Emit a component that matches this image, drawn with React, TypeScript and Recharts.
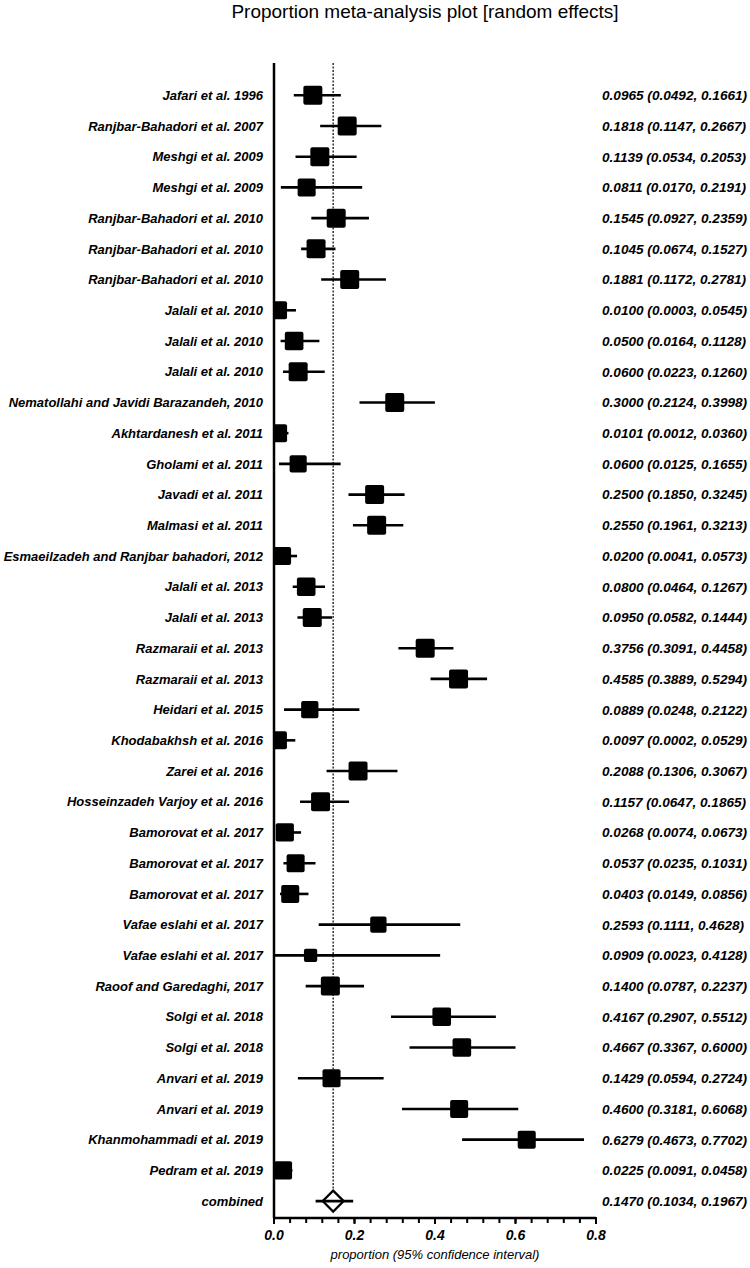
import React from "react";
import { ScatterChart, Scatter, XAxis, YAxis, ErrorBar, ReferenceLine } from "recharts";

const studies = [
  "Jafari et al. 1996",
  "Ranjbar-Bahadori et al. 2007",
  "Meshgi et al. 2009",
  "Meshgi et al. 2009",
  "Ranjbar-Bahadori et al. 2010",
  "Ranjbar-Bahadori et al. 2010",
  "Ranjbar-Bahadori et al. 2010",
  "Jalali et al. 2010",
  "Jalali et al. 2010",
  "Jalali et al. 2010",
  "Nematollahi and Javidi Barazandeh, 2010",
  "Akhtardanesh et al. 2011",
  "Gholami et al. 2011",
  "Javadi et al. 2011",
  "Malmasi et al. 2011",
  "Esmaeilzadeh and Ranjbar bahadori, 2012",
  "Jalali et al. 2013",
  "Jalali et al. 2013",
  "Razmaraii et al. 2013",
  "Razmaraii et al. 2013",
  "Heidari et al. 2015",
  "Khodabakhsh et al. 2016",
  "Zarei et al. 2016",
  "Hosseinzadeh Varjoy et al. 2016",
  "Bamorovat et al. 2017",
  "Bamorovat et al. 2017",
  "Bamorovat et al. 2017",
  "Vafae eslahi et al. 2017",
  "Vafae eslahi et al. 2017",
  "Raoof and Garedaghi, 2017",
  "Solgi et al. 2018",
  "Solgi et al. 2018",
  "Anvari et al. 2019",
  "Anvari et al. 2019",
  "Khanmohammadi et al. 2019",
  "Pedram et al. 2019",
];

const proportions = [
  0.0965, 0.1818, 0.1139, 0.0811, 0.1545, 0.1045, 0.1881, 0.01, 0.05, 0.06,
  0.3, 0.0101, 0.06, 0.25, 0.255, 0.02, 0.08, 0.095, 0.3756, 0.4585,
  0.0889, 0.0097, 0.2088, 0.1157, 0.0268, 0.0537, 0.0403, 0.2593, 0.0909, 0.14,
  0.4167, 0.4667, 0.1429, 0.46, 0.6279, 0.0225,
];

const lower = [
  0.0492, 0.1147, 0.0534, 0.017, 0.0927, 0.0674, 0.1172, 0.0003, 0.0164, 0.0223,
  0.2124, 0.0012, 0.0125, 0.185, 0.1961, 0.0041, 0.0464, 0.0582, 0.3091, 0.3889,
  0.0248, 0.0002, 0.1306, 0.0647, 0.0074, 0.0235, 0.0149, 0.1111, 0.0023, 0.0787,
  0.2907, 0.3367, 0.0594, 0.3181, 0.4673, 0.0091,
];

const upper = [
  0.1661, 0.2667, 0.2053, 0.2191, 0.2359, 0.1527, 0.2781, 0.0545, 0.1128, 0.126,
  0.3998, 0.036, 0.1655, 0.3245, 0.3213, 0.0573, 0.1267, 0.1444, 0.4458, 0.5294,
  0.2122, 0.0529, 0.3067, 0.1865, 0.0673, 0.1031, 0.0856, 0.4628, 0.4128, 0.2237,
  0.5512, 0.6, 0.2724, 0.6068, 0.7702, 0.0458,
];

// relative study weights (marker size relative to largest)
const weights = [
  1, 1, 1, 0.95, 1, 1, 1, 0.95, 0.98, 1,
  1, 0.95, 0.9, 1, 1, 0.95, 0.98, 1, 1, 1,
  0.91, 0.95, 1, 1, 0.96, 0.95, 0.95, 0.86, 0.7, 1,
  0.98, 0.98, 0.95, 0.95, 0.95, 0.95,
];

const combinedLabel = "combined";
const combinedValue = 0.147;
const combinedLower = 0.1034;
const combinedUpper = 0.1967;

const xTicks = [
  0, 0.04, 0.08, 0.12, 0.16, 0.2, 0.24, 0.28, 0.32, 0.36, 0.4, 0.44, 0.48, 0.52,
  0.56, 0.6, 0.64, 0.68, 0.72, 0.76, 0.8,
];
const xLabelTicks = [0, 0.2, 0.4, 0.6, 0.8];

const labels = [...studies, combinedLabel];
const fmt = (p: number, l: number, u: number) =>
  `${p.toFixed(4)} (${l.toFixed(4)}, ${u.toFixed(4)})`;
const ciTexts = [
  ...proportions.map((p, i) => fmt(p, lower[i], upper[i])),
  fmt(combinedValue, combinedLower, combinedUpper),
];

const studyData = proportions.map((p, i) => ({
  x: p,
  y: i,
  w: weights[i],
  err: [p - lower[i], upper[i] - p],
}));
const combinedData = [
  {
    x: combinedValue,
    y: studies.length,
    err: [combinedValue - combinedLower, combinedUpper - combinedValue],
  },
];
const rightData = [...studyData, ...combinedData];
const yTicks = labels.map((_, i) => i);

const FONT = "'Liberation Sans', Arial, Helvetica, sans-serif";

const Square = (props: any) => {
  const { cx, cy, payload } = props;
  const s = 19 * (payload?.w ?? 1);
  return <rect x={cx - s / 2} y={cy - s / 2} width={s} height={s} rx={2} ry={2} fill="#000" />;
};

const Diamond = (props: any) => {
  const { cx, cy } = props;
  const h = 10.5;
  return (
    <path
      d={`M${cx},${cy - h} L${cx + h},${cy} L${cx},${cy + h} L${cx - h},${cy} Z`}
      fill="none"
      stroke="#000"
      strokeWidth={2.2}
      strokeLinejoin="miter"
    />
  );
};

const Empty = () => <g />;

const LeftTick = (props: any) => {
  const { x, y, payload } = props;
  return (
    <text
      x={x - 11}
      y={y}
      dy="0.36em"
      textAnchor="end"
      fontFamily={FONT}
      fontSize={13}
      fontWeight="bold"
      fontStyle="italic"
      fill="#000"
    >
      {labels[payload.value]}
    </text>
  );
};

const RightTick = (props: any) => {
  const { x, y, payload } = props;
  return (
    <text
      x={x + 6}
      y={y}
      dy="0.36em"
      textAnchor="start"
      fontFamily={FONT}
      fontSize={13.6}
      fontWeight="bold"
      fontStyle="italic"
      fill="#000"
    >
      {ciTexts[payload.value]}
    </text>
  );
};

const XTick = (props: any) => {
  const { x, y, payload } = props;
  const v = payload.value;
  const major = xLabelTicks.some((t) => Math.abs(t - v) < 1e-9);
  if (!major) return <g />;
  return (
    <g>
      <line x1={x} x2={x} y1={y - 6} y2={y + 1} stroke="#000" strokeWidth={2} />
      <text
        x={x}
        y={y + 17}
        textAnchor="middle"
        fontFamily={FONT}
        fontSize={14}
        fontWeight="bold"
        fontStyle="italic"
        fill="#000"
      >
        {v.toFixed(1)}
      </text>
    </g>
  );
};

export default function App() {
  return (
    <div style={{ position: "absolute", left: 0, top: 0, width: 750, height: 1268, background: "#fff" }}>
      <div
        style={{
          position: "absolute",
          left: 0,
          width: 850,
          top: 1,
          textAlign: "center",
          fontFamily: FONT,
          fontSize: 19,
          lineHeight: "22px",
          color: "#000",
        }}
      >
        Proportion meta-analysis plot [random effects]
      </div>
      <ScatterChart
        width={750}
        height={1268}
        margin={{ top: 63, right: 0, bottom: 0, left: 0 }}
      >
        <XAxis
          type="number"
          dataKey="x"
          domain={[0, 0.8]}
          ticks={xTicks}
          interval={0}
          allowDataOverflow
          height={50}
          axisLine={{ stroke: "#000", strokeWidth: 2.5 }}
          tickLine={{ stroke: "#000", strokeWidth: 2 }}
          tickSize={5}
          tickMargin={0}
          tick={<XTick />}
        />
        <YAxis
          yAxisId="left"
          type="number"
          dataKey="y"
          domain={[-1.05, 36.55]}
          ticks={yTicks}
          interval={0}
          reversed
          width={274}
          axisLine={{ stroke: "#000", strokeWidth: 2.5 }}
          tickLine={false}
          tickSize={0}
          tickMargin={0}
          tick={<LeftTick />}
        />
        <YAxis
          yAxisId="right"
          orientation="right"
          type="number"
          dataKey="y"
          domain={[-1.05, 36.55]}
          ticks={yTicks}
          interval={0}
          reversed
          width={154}
          axisLine={false}
          tickLine={false}
          tickSize={0}
          tickMargin={0}
          tick={<RightTick />}
        />
        <ReferenceLine
          yAxisId="left"
          segment={[
            { x: combinedValue, y: -1.05 },
            { x: combinedValue, y: studies.length - 0.34 },
          ]}
          stroke="#222"
          strokeWidth={1.4}
          strokeDasharray="2 1.5"
        />
        <Scatter
          yAxisId="right"
          data={rightData}
          shape={<Empty />}
          isAnimationActive={false}
        />
        <Scatter
          yAxisId="left"
          data={studyData}
          shape={<Square />}
          isAnimationActive={false}
        >
          <ErrorBar dataKey="err" direction="x" width={0} stroke="#000" strokeWidth={2.6} />
        </Scatter>
        <Scatter
          yAxisId="left"
          data={combinedData}
          shape={<Diamond />}
          isAnimationActive={false}
        >
          <ErrorBar dataKey="err" direction="x" width={0} stroke="#000" strokeWidth={2.6} />
        </Scatter>
      </ScatterChart>
      <div
        style={{
          position: "absolute",
          left: 274,
          width: 322,
          top: 1247,
          textAlign: "center",
          fontFamily: FONT,
          fontSize: 13,
          fontStyle: "italic",
          color: "#000",
        }}
      >
        proportion (95% confidence interval)
      </div>
    </div>
  );
}
